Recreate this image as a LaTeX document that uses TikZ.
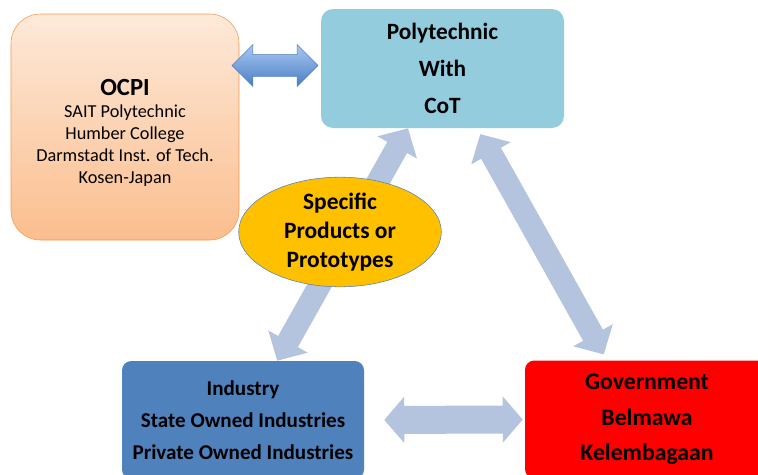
\documentclass[tikz,border=0pt]{standalone}
\usepackage{fontspec}
\setmainfont{Carlito}
\usetikzlibrary{shapes.geometric, shapes.arrows, arrows.meta}
\usepackage{xcolor}
\definecolor{ocpiline}{RGB}{247,150,70}
\definecolor{ocpitop}{RGB}{253,233,217}
\definecolor{ocpibot}{RGB}{251,190,142}
\definecolor{polyfill}{RGB}{147,205,221}
\definecolor{indfill}{RGB}{79,129,189}
\definecolor{prodfill}{RGB}{255,192,0}
\definecolor{linkblue}{RGB}{180,195,222}
\definecolor{arrtop}{RGB}{170,200,245}
\definecolor{arrbot}{RGB}{74,126,193}
\tikzstyle{fatarrow} = [draw=linkblue, line width=17pt, {Triangle[length=16.5pt,width=33pt]}-{Triangle[length=16.5pt,width=33pt]}]

\begin{document}
\begin{tikzpicture}
        [
            x=0.75pt, y=-0.75pt,
            box/.style={rectangle, rounded corners=7pt, minimum width=181.5pt, minimum height=88.5pt, align=center, inner sep=0pt},
            duoarrow/.style={double arrow, draw=arrbot, top color=arrtop, bottom color=arrbot, minimum height=64.5pt, inner xsep=0pt, inner ysep=7.9pt, double arrow head extend=7.5pt, double arrow head indent=0pt},
        ]
    \useasboundingbox (0,0) rectangle (758,475);
    \clip (0,0) rectangle (758,475);

    % the four partners
    \node[box, rounded corners=22pt, minimum width=171pt, minimum height=169.5pt, draw=ocpiline, top color=ocpitop, bottom color=ocpibot,
          font=\fontsize{13.7}{16.5}\selectfont] (ocpi) at (125,127)
          {\rule{0pt}{21pt}{\fontsize{18.5}{16}\selectfont\bfseries OCPI}\\SAIT Polytechnic\\Humber College\\Darmstadt Inst. of Tech.\\Kosen-Japan};
    \node[box, rounded corners=9pt, minimum width=182.25pt, minimum height=89.25pt, fill=polyfill,
          font=\fontsize{17.5}{27.75}\selectfont\bfseries] (poly) at (442.5,68.5) {Polytechnic\\With\\CoT};
    \node[box, fill=indfill, font=\fontsize{15.8}{24}\selectfont\bfseries] (ind) at (243,420)
          {Industry\\State Owned Industries\\Private Owned Industries};
    \node[box, minimum width=183pt, fill=red, font=\fontsize{17.8}{26.6}\selectfont\bfseries] (gov) at (647,419.5)
          {Government\\Belmawa\\Kelembagaan};

    % links
    \path (ocpi.east |- poly.west) -- (poly.west) node[midway, xshift=-3.75pt, yshift=2.25pt, duoarrow] (oarr) {};
    \draw[fatarrow] (ind.60) -- (poly.240);
    \draw[fatarrow, shorten <=5pt, shorten >=5pt] (poly.300) -- (gov.124);
    \draw[fatarrow, line width=21pt, {Triangle[length=15pt,width=34pt]}-{Triangle[length=15pt,width=34pt]}, shorten <=15pt, shorten >=1.5pt] (ind.east) -- (gov.west);

    \node[ellipse, draw=indfill, fill=prodfill, minimum width=152pt, minimum height=59pt, inner sep=0pt, align=center,
          font=\fontsize{17.6}{21.5}\selectfont\bfseries] (prod) at (340,232) {Specific\\Products or\\Prototypes};
\end{tikzpicture}
\end{document}
